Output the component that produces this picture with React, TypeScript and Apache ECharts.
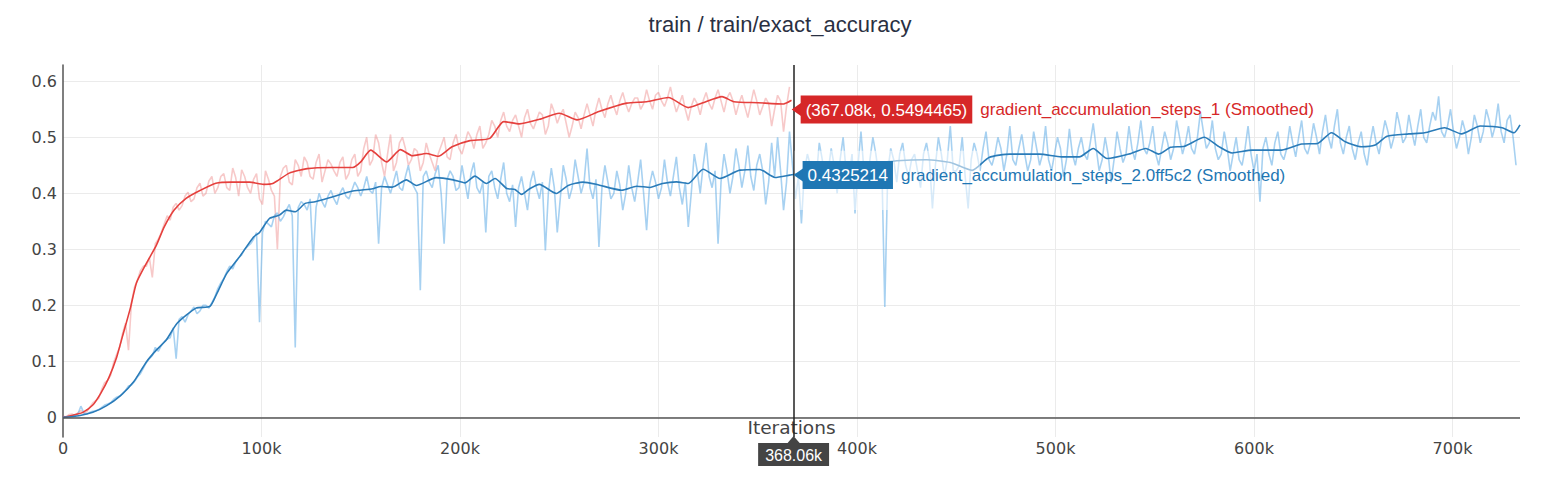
import React, { useEffect, useRef } from 'react'
import * as echarts from 'echarts'

// sampling step of the raw traces (iterations); the *Mid arrays sit half a step later
const STEP = 3000
const X_MAX = 734000
const Y_MIN = -0.035
const Y_MAX = 0.629
const HOVER_X = 368060

const TITLE = 'train / train/exact_accuracy'
const X_NAME = 'Iterations'
const redName = 'gradient_accumulation_steps_1 (Smoothed)'
const blueName = 'gradient_accumulation_steps_2.0ff5c2 (Smoothed)'

// hover readouts
const redHover = { x: 367080, y: 0.5494465, text: '(367.08k, 0.5494465)' }
const blueHover = { x: 368060, y: 0.4325214, text: '0.4325214' }
const xHoverText = '368.06k'

// raw values at 0, 3k, 6k ...
const redRaw = [
  0.002, 0.005, 0.003, 0.012, 0.01, 0.026, 0.034, 0.062, 0.075, 0.112,
  0.15, 0.12, 0.232, 0.262, 0.27, 0.25, 0.318, 0.345, 0.352, 0.382,
  0.378, 0.402, 0.39, 0.418, 0.4, 0.43, 0.41, 0.435, 0.405, 0.428,
  0.442, 0.41, 0.425, 0.39, 0.44, 0.405, 0.3, 0.445, 0.42, 0.46,
  0.43, 0.455, 0.425, 0.47, 0.44, 0.452, 0.43, 0.465, 0.435, 0.47,
  0.44, 0.5, 0.46, 0.49, 0.43, 0.505, 0.455, 0.5, 0.45, 0.48,
  0.44, 0.49, 0.455, 0.47, 0.5, 0.46, 0.505, 0.47, 0.51, 0.48,
  0.52, 0.49, 0.53, 0.5, 0.545, 0.51, 0.54, 0.5, 0.55, 0.515,
  0.545, 0.505, 0.56, 0.525, 0.55, 0.5, 0.545, 0.515, 0.56, 0.52,
  0.57, 0.535, 0.575, 0.54, 0.58, 0.545, 0.57, 0.55, 0.585, 0.55,
  0.58, 0.555, 0.59, 0.545, 0.575, 0.53, 0.57, 0.54, 0.58, 0.55,
  0.585, 0.545, 0.58, 0.54, 0.575, 0.535, 0.585, 0.54, 0.57, 0.52,
  0.575, 0.51, 0.59
]

// raw values at 1.5k, 4.5k, 7.5k ...
const redRawMid = [
  0.001, 0.006, 0.008, 0.007, 0.018, 0.03, 0.05, 0.066, 0.098, 0.125,
  0.168, 0.205, 0.245, 0.27, 0.285, 0.31, 0.33, 0.36, 0.375, 0.37,
  0.395, 0.385, 0.41, 0.395, 0.422, 0.4, 0.43, 0.41, 0.445, 0.395,
  0.43, 0.4, 0.435, 0.38, 0.425, 0.395, 0.43, 0.45, 0.415, 0.45,
  0.465, 0.43, 0.455, 0.42, 0.46, 0.44, 0.455, 0.425, 0.46, 0.43,
  0.48, 0.45, 0.505, 0.455, 0.47, 0.44, 0.49, 0.48, 0.46, 0.475,
  0.455, 0.47, 0.44, 0.485, 0.465, 0.49, 0.48, 0.49, 0.5, 0.505,
  0.48, 0.505, 0.52, 0.53, 0.52, 0.53, 0.52, 0.535, 0.525, 0.53,
  0.54, 0.52, 0.545, 0.54, 0.525, 0.52, 0.535, 0.54, 0.54, 0.55,
  0.55, 0.56, 0.555, 0.565, 0.56, 0.56, 0.57, 0.56, 0.565, 0.575,
  0.565, 0.57, 0.565, 0.56, 0.55, 0.555, 0.56, 0.565, 0.56, 0.57,
  0.565, 0.57, 0.565, 0.56, 0.555, 0.56, 0.565, 0.555, 0.56, 0.55,
  0.565, 0.555
]

const blueRaw = [
  0.001, 0.002, 0.004, 0.02, 0.006, 0.011, 0.014, 0.022, 0.026, 0.036,
  0.042, 0.056, 0.064, 0.078, 0.098, 0.11, 0.118, 0.135, 0.142, 0.105,
  0.18, 0.183, 0.197, 0.19, 0.2, 0.205, 0.23, 0.248, 0.27, 0.278,
  0.29, 0.305, 0.318, 0.17, 0.35, 0.34, 0.365, 0.358, 0.38, 0.125,
  0.385, 0.37, 0.28, 0.4, 0.375, 0.405, 0.38, 0.41, 0.39, 0.42,
  0.395, 0.43, 0.4, 0.31, 0.43, 0.4, 0.44, 0.405, 0.45, 0.41,
  0.227, 0.44, 0.41, 0.45, 0.31, 0.44, 0.405, 0.45, 0.39, 0.455,
  0.4, 0.33, 0.44, 0.39, 0.455, 0.385, 0.34, 0.43, 0.37, 0.44,
  0.39, 0.298, 0.445, 0.33, 0.45, 0.39, 0.46, 0.4, 0.48, 0.39,
  0.304, 0.45, 0.39, 0.44, 0.37, 0.45, 0.385, 0.46, 0.334, 0.44,
  0.39, 0.46, 0.395, 0.465, 0.38, 0.34, 0.47, 0.4, 0.49, 0.41,
  0.31, 0.47, 0.4, 0.48, 0.41, 0.485, 0.405, 0.47, 0.38, 0.49,
  0.5, 0.37, 0.51, 0.39, 0.346, 0.47, 0.41, 0.49, 0.42, 0.48,
  0.4, 0.5, 0.43, 0.364, 0.51, 0.42, 0.5, 0.43, 0.197, 0.48,
  0.42, 0.49, 0.43, 0.47, 0.41, 0.49, 0.373, 0.5, 0.43, 0.52,
  0.44, 0.5, 0.373, 0.49, 0.44, 0.51, 0.45, 0.5, 0.44, 0.52,
  0.45, 0.505, 0.44, 0.51, 0.45, 0.52, 0.44, 0.5, 0.43, 0.515,
  0.45, 0.5, 0.46, 0.525, 0.44, 0.5, 0.42, 0.51, 0.455, 0.52,
  0.46, 0.53, 0.47, 0.52, 0.45, 0.51, 0.46, 0.53, 0.47, 0.52,
  0.47, 0.545, 0.48, 0.53, 0.46, 0.51, 0.44, 0.5, 0.45, 0.52,
  0.44, 0.385, 0.5, 0.45, 0.51, 0.46, 0.52, 0.465, 0.53, 0.47,
  0.525, 0.47, 0.54, 0.48, 0.55, 0.47, 0.52, 0.46, 0.51, 0.45,
  0.52, 0.47, 0.53, 0.48, 0.545, 0.49, 0.54, 0.485, 0.55, 0.49,
  0.545, 0.573, 0.5, 0.55, 0.48, 0.53, 0.47, 0.54, 0.49, 0.55,
  0.5, 0.56, 0.49, 0.54, 0.45
]

const blueRawMid = [
  0.001, 0.003, 0.006, 0.008, 0.009, 0.012, 0.018, 0.024, 0.032, 0.038,
  0.048, 0.058, 0.072, 0.088, 0.105, 0.125, 0.128, 0.14, 0.16, 0.175,
  0.17, 0.19, 0.185, 0.2, 0.195, 0.215, 0.24, 0.26, 0.265, 0.285,
  0.3, 0.31, 0.33, 0.33, 0.345, 0.36, 0.35, 0.37, 0.36, 0.375,
  0.38, 0.39, 0.375, 0.385, 0.395, 0.39, 0.4, 0.395, 0.405, 0.41,
  0.41, 0.405, 0.42, 0.41, 0.415, 0.42, 0.41, 0.43, 0.42, 0.4,
  0.43, 0.42, 0.435, 0.4, 0.425, 0.43, 0.41, 0.42, 0.435, 0.41,
  0.42, 0.43, 0.41, 0.425, 0.4, 0.415, 0.41, 0.4, 0.42, 0.41,
  0.42, 0.4, 0.41, 0.39, 0.425, 0.41, 0.43, 0.42, 0.41, 0.425,
  0.41, 0.42, 0.4, 0.415, 0.4, 0.41, 0.42, 0.4, 0.415, 0.42,
  0.41, 0.42, 0.43, 0.41, 0.42, 0.4, 0.44, 0.45, 0.43, 0.44,
  0.42, 0.44, 0.43, 0.45, 0.44, 0.43, 0.45, 0.44, 0.42, 0.43,
  0.44, 0.42, 0.45, 0.43, 0.44, 0.45, 0.43, 0.46, 0.44, 0.45,
  0.46, 0.44, 0.47, 0.45, 0.44, 0.46, 0.47, 0.45, 0.44, 0.46,
  0.47, 0.45, 0.46, 0.44, 0.47, 0.46, 0.45, 0.47, 0.46, 0.44,
  0.45, 0.43, 0.46, 0.47, 0.48, 0.46, 0.47, 0.48, 0.47, 0.46,
  0.48, 0.47, 0.46, 0.48, 0.47, 0.46, 0.47, 0.48, 0.46, 0.47,
  0.48, 0.47, 0.49, 0.48, 0.46, 0.47, 0.46, 0.48, 0.47, 0.48,
  0.49, 0.48, 0.49, 0.47, 0.48, 0.49, 0.48, 0.5, 0.49, 0.48,
  0.5, 0.51, 0.49, 0.48, 0.47, 0.48, 0.47, 0.46, 0.48, 0.47,
  0.47, 0.48, 0.47, 0.49, 0.47, 0.48, 0.49, 0.5, 0.48, 0.49,
  0.5, 0.51, 0.5, 0.52, 0.49, 0.5, 0.48, 0.49, 0.47, 0.49,
  0.49, 0.5, 0.51, 0.5, 0.52, 0.5, 0.51, 0.52, 0.5, 0.52,
  0.53, 0.51, 0.52, 0.51, 0.5, 0.51, 0.5, 0.52, 0.51, 0.53,
  0.52, 0.51, 0.53, 0.5
]

// smoothed traces: [iterations in k, value]
const redSmoothed = [
  [0, 0], [5, 0.004], [10, 0.009], [15, 0.022], [19, 0.043], [23, 0.07], [27, 0.107],
  [30, 0.145], [34, 0.196], [37, 0.24], [42, 0.275], [47, 0.307], [51, 0.34], [56, 0.37],
  [62, 0.391], [69, 0.405], [77, 0.418], [85, 0.42], [94, 0.42], [101, 0.416], [106, 0.418],
  [114, 0.436], [123, 0.444], [135, 0.446], [146, 0.446], [150, 0.456], [155, 0.477],
  [163, 0.456], [170, 0.478], [176, 0.467], [183, 0.471], [189, 0.466], [196, 0.483],
  [205, 0.494], [215, 0.498], [222, 0.528], [230, 0.524], [240, 0.532], [250, 0.543],
  [259, 0.531], [270, 0.546], [284, 0.561], [294, 0.5635], [305, 0.571], [315, 0.553],
  [322, 0.561], [332, 0.5725], [338, 0.5635], [350, 0.5617], [363, 0.5594], [367, 0.566]
]

const blueSmoothed = [
  [0, 0], [8, 0.003], [15, 0.009], [22, 0.021], [29, 0.039], [35.5, 0.063], [42, 0.099],
  [47, 0.12], [52, 0.138], [57.5, 0.168], [67, 0.195], [74, 0.198], [77.5, 0.221],
  [82.5, 0.257], [89, 0.287], [96, 0.322], [99, 0.33], [104, 0.355], [109, 0.361],
  [112.5, 0.37], [117, 0.367], [122, 0.382], [127, 0.385], [136, 0.394], [146, 0.404],
  [156, 0.408], [160, 0.412], [166, 0.411], [173, 0.424], [178, 0.414], [188, 0.428],
  [196.6, 0.424], [202.5, 0.4186], [207.5, 0.4306], [213.4, 0.4175], [217.6, 0.4265],
  [223.5, 0.4086], [227.7, 0.4068], [231, 0.398], [235.3, 0.4086], [240, 0.416],
  [248.5, 0.3996], [254.5, 0.414], [262, 0.42], [269, 0.4157], [281.5, 0.4055],
  [289, 0.4127], [295.7, 0.4104], [302, 0.4175], [309, 0.4204], [315, 0.4175],
  [322.5, 0.443], [331, 0.4265], [341, 0.4413], [351, 0.4425], [358.7, 0.4283],
  [366, 0.4324], [375, 0.438], [390, 0.445], [405, 0.452], [420, 0.458], [435, 0.46],
  [447, 0.455], [458, 0.441], [466.5, 0.464], [477, 0.47], [492, 0.47], [503, 0.465],
  [512, 0.465], [519, 0.48], [526, 0.462], [537, 0.47], [545.5, 0.48], [552, 0.47],
  [558, 0.482], [565, 0.484], [575, 0.5], [582, 0.484], [589, 0.472], [599, 0.477],
  [614, 0.477], [624, 0.488], [632, 0.489], [639, 0.508], [646, 0.492], [654, 0.483],
  [661, 0.486], [667, 0.502], [678, 0.506], [686, 0.508], [696, 0.517], [704.5, 0.506],
  [714, 0.52], [725, 0.517], [731, 0.508], [734, 0.522]
]

const RED = '#d62728'
const RED_LINE = '#e5403d'
const BLUE = '#1f77b4'
const BLUE_LINE = '#2a7bb8'
const TICK_FONT = 'DejaVu Sans'
const LABEL_FONT = 'Liberation Sans'

// merge the whole-step and half-step samples into one [x, y] list
const rawPoints = (main: number[], mid: number[]) => {
  const out: number[][] = []
  main.forEach((v, i) => {
    out.push([i * STEP, v])
    if (i < mid.length) out.push([i * STEP + STEP / 2, mid[i]])
  })
  return out
}

export default function App() {
  const chartRef: any = useRef()

  useEffect(() => {
    const chart = echarts.init(chartRef.current, null, { renderer: 'svg' })
    const rawLine = (data: number[][], color: string) => ({
      type: 'line',
      data,
      showSymbol: false,
      symbol: 'none',
      silent: true,
      lineStyle: { color, width: 1.6 },
      emphasis: { disabled: true }
    })
    const smoothLine = (data: number[][], color: string) => ({
      type: 'line',
      data: data.map((p) => [p[0] * 1000, p[1]]),
      showSymbol: false,
      symbol: 'none',
      silent: true,
      smooth: 0.2,
      lineStyle: { color, width: 1.6 },
      emphasis: { disabled: true }
    })

    const option: any = {
      animation: false,
      title: {
        text: TITLE,
        left: 'center',
        top: 8,
        textStyle: { fontSize: 22, fontWeight: 'normal', color: '#2a3042', fontFamily: LABEL_FONT }
      },
      grid: { left: 63, right: 40, top: 65, bottom: 54 },
      xAxis: {
        type: 'value',
        min: 0,
        max: X_MAX,
        axisLine: { show: false, onZero: false },
        axisTick: { show: false },
        axisLabel: {
          color: '#444',
          fontSize: 16,
          fontFamily: TICK_FONT,
          margin: 3,
          showMaxLabel: false,
          formatter: (v: number) => (v === 0 ? '0' : `${Math.round(v / 1000)}k`)
        },
        splitLine: { show: true, showMinLine: false, showMaxLine: false, lineStyle: { color: '#ebebeb', width: 1 } }
      },
      yAxis: {
        type: 'value',
        min: Y_MIN,
        max: Y_MAX,
        splitNumber: 6,
        axisLine: { show: true, onZero: false, lineStyle: { color: '#555', width: 1.5 } },
        axisTick: { show: false },
        axisLabel: {
          color: '#444',
          fontSize: 16,
          fontFamily: TICK_FONT,
          margin: 6,
          showMinLabel: false,
          showMaxLabel: false,
          formatter: (v: number) => (Math.abs(v) < 1e-9 ? '0' : `${Math.round(v * 10) / 10}`)
        },
        splitLine: { show: true, showMinLine: false, showMaxLine: false, lineStyle: { color: '#ebebeb', width: 1 } }
      },
      series: [
        {
          ...rawLine(rawPoints(redRaw, redRawMid), 'rgba(236, 120, 120, 0.4)'),
          markLine: {
            silent: true,
            symbol: ['none', 'none'],
            label: { show: false },
            emphasis: { disabled: true },
            data: [{ yAxis: 0, lineStyle: { color: '#555', width: 1.5, type: 'solid' } }]
          }
        },
        rawLine(rawPoints(blueRaw, blueRawMid), 'rgba(95, 172, 230, 0.55)'),
        smoothLine(redSmoothed, RED_LINE),
        {
          ...smoothLine(blueSmoothed, BLUE_LINE),
          markLine: {
            silent: true,
            symbol: ['none', 'none'],
            label: { show: false },
            emphasis: { disabled: true },
            data: [{ xAxis: HOVER_X, lineStyle: { color: '#222', width: 1.5, type: 'solid' } }]
          }
        }
      ]
    }
    chart.setOption(option)

    const px = (x: number, y: number) => chart.convertToPixel({ gridIndex: 0 }, [x, y]) as number[]
    const hoverLabel = (tip: number[], color: string, box: string, name: string) => [
      {
        type: 'polygon',
        z: 20,
        silent: true,
        shape: { points: [[tip[0], tip[1]], [tip[0] + 10, tip[1] - 7], [tip[0] + 10, tip[1] + 7]] },
        style: { fill: color }
      },
      {
        type: 'text',
        z: 21,
        silent: true,
        x: tip[0] + 9,
        y: tip[1],
        style: {
          text: `{b|${box}}{n|${name}}`,
          verticalAlign: 'middle',
          rich: {
            b: {
              fill: '#fff',
              backgroundColor: color,
              padding: [6, 5, 5, 5],
              fontSize: 17,
              fontFamily: LABEL_FONT
            },
            n: { fill: color, fontSize: 17, fontFamily: LABEL_FONT, padding: [0, 0, 0, 8] }
          }
        }
      }
    ]

    const fadeA = px(HOVER_X, 0.476)
    const fadeB = px(462000, 0.37)
    const bottom = px(HOVER_X, Y_MIN)
    const mid = px(X_MAX / 2, Y_MIN)
    const redTip = px(redHover.x, redHover.y)
    const blueTip = px(blueHover.x, blueHover.y)

    chart.setOption({
      graphic: [
        {
          type: 'text',
          z: 1,
          silent: true,
          x: mid[0],
          y: mid[1] - 10,
          style: {
            text: X_NAME,
            align: 'center',
            verticalAlign: 'middle',
            fill: '#444',
            fontSize: 18.5,
            fontFamily: TICK_FONT
          }
        },
        {
          type: 'rect',
          z: 15,
          silent: true,
          shape: { x: fadeA[0] + 1, y: fadeA[1], width: fadeB[0] - fadeA[0] - 1, height: fadeB[1] - fadeA[1] },
          style: { fill: 'rgba(255,255,255,0.55)' }
        },
        ...hoverLabel(redTip, RED, redHover.text, redName),
        ...hoverLabel(blueTip, BLUE, blueHover.text, blueName),
        {
          type: 'polygon',
          z: 20,
          silent: true,
          shape: { points: [[bottom[0], bottom[1] - 1], [bottom[0] - 6, bottom[1] + 6], [bottom[0] + 6, bottom[1] + 6]] },
          style: { fill: '#444' }
        },
        {
          type: 'text',
          z: 21,
          silent: true,
          x: bottom[0],
          y: bottom[1] + 6,
          style: {
            text: xHoverText,
            align: 'center',
            verticalAlign: 'top',
            fill: '#fff',
            backgroundColor: '#444',
            padding: [4, 7, 3, 7],
            fontSize: 16,
            fontFamily: LABEL_FONT
          }
        }
      ]
    })

    return () => {
      chart.dispose()
    }
  }, [])

  return (
    <div
      ref={chartRef}
      style={{ position: 'fixed', left: 0, top: 0, width: 1560, height: 491, background: '#fff' }}
    />
  )
}
